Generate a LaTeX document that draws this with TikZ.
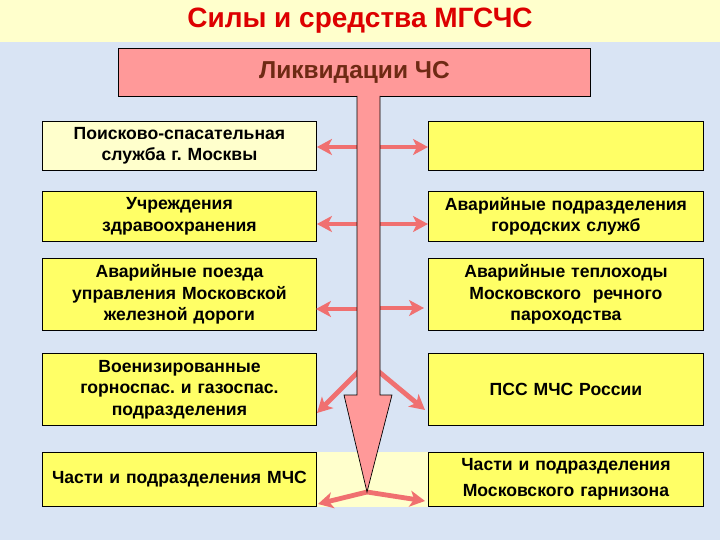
\documentclass[tikz,border=0pt]{standalone}
\usepackage{fontspec}
\setmainfont{Liberation Sans}
\setsansfont{Liberation Sans}
\usetikzlibrary{arrows.meta}
\definecolor{bgblue}{HTML}{D9E4F4}
\definecolor{paleyel}{HTML}{FFFFCC}
\definecolor{boxyel}{HTML}{FFFF66}
\definecolor{pinkf}{HTML}{FF9999}
\definecolor{arrowc}{HTML}{F07070}
\definecolor{titlered}{HTML}{DD0000}
\definecolor{brownt}{HTML}{6E2A14}
\tikzset{
  box/.style={draw=black, line width=0.9pt, fill=boxyel, anchor=north west,
    align=center, inner sep=0pt, text width=#1,
    font=\bfseries\fontsize{17.6}{21.5}\selectfont},
  box/.default=274pt,
  conn/.style={draw=arrowc, line width=4.8pt,
    -{Stealth[length=15pt,width=16pt,inset=4pt]}},
}
\frenchspacing
\begin{document}
\begin{tikzpicture}[x=1pt,y=-1pt]
\fill[bgblue] (0,0) rectangle (720,540);
\fill[paleyel] (0,0) rectangle (720,42);
\useasboundingbox (0,0) rectangle (720,540);
\node[text=titlered, font=\bfseries\fontsize{28}{30}\selectfont] (title) at (360,21) {Силы и средства МГСЧС};
\node[draw=black, line width=0.9pt, fill=pinkf, anchor=north west, inner sep=0pt,
  minimum width=472pt, minimum height=48pt, text=brownt,
  font=\bfseries\fontsize{24.5}{26}\selectfont] (top) at (118,48) {Ликвидации ЧС};
\fill[paleyel] (315,452) rectangle (428,507);
% boxes
\node[box, fill=paleyel, minimum height=49pt] (l1) at (42,121) {Поисково-спасательная\\служба г. Москвы};
\node[box=275pt, minimum height=49pt] (r1) at (428,121) {};
\node[box, minimum height=50pt] (l2) at (42,191) {Учреждения\\здравоохранения};
\node[box=275pt, minimum height=50pt] (r2) at (428,191) {Аварийные подразделения\\городских служб};
\node[box, minimum height=72pt] (l3) at (42,258) {Аварийные поезда\\управления Московской\\железной дороги};
\node[box=275pt, minimum height=72pt] (r3) at (428,258) {Аварийные теплоходы\\Московского\ \ речного\\пароходства};
\node[box, minimum height=72pt] (l4) at (42,353) {Военизированные\\горноспас. и газоспас.\\подразделения};
\node[box=275pt, minimum height=72pt] (r4) at (428,353) {ПСС МЧС России};
\node[box, minimum height=54pt] (l5) at (42,452) {Части и подразделения МЧС};
\node[box=275pt, minimum height=54pt] (r5) at (428,452) {Части и подразделения\\[4.5pt]Московского гарнизона};
% shaft coordinates
\coordinate (s1l) at (358,147); \coordinate (s1r) at (379,147);
\coordinate (s2l) at (358,224); \coordinate (s2r) at (379,224);
\coordinate (s3l) at (358,309); \coordinate (s3r) at (379,308);
\coordinate (s4l) at (359,371); \coordinate (s4r) at (378,371);
\coordinate (e4l) at (317,413); \coordinate (e4r) at (425,410);
\coordinate (tip) at (367,492);
\coordinate (e5l) at (318,504); \coordinate (e5r) at (425,501);
% connectors
\draw[conn] (s1l) -- (l1.east |- s1l);
\draw[conn] (s1r) -- (r1.west |- s1r);
\draw[conn] (s2l) -- (l2.east |- s2l);
\draw[conn] (s2r) -- (r2.west |- s2r);
\draw[conn] (s3l) -- ([xshift=-1pt]l3.east |- s3l);
\draw[conn] (s3r) -- ([xshift=-4pt]r3.west |- s3r);
\draw[conn] (s4l) -- (e4l);
\draw[conn] (s4r) -- (e4r);
\draw[conn] (tip) -- (e5l);
\draw[conn] (tip) -- (e5r);
% big arrow
\filldraw[fill=pinkf, draw=black, line width=0.7pt]
  (357,96) -- (357,395) -- (344,395) -- (tip) -- (392,395) -- (380,395) -- (380,96);
\end{tikzpicture}
\end{document}
